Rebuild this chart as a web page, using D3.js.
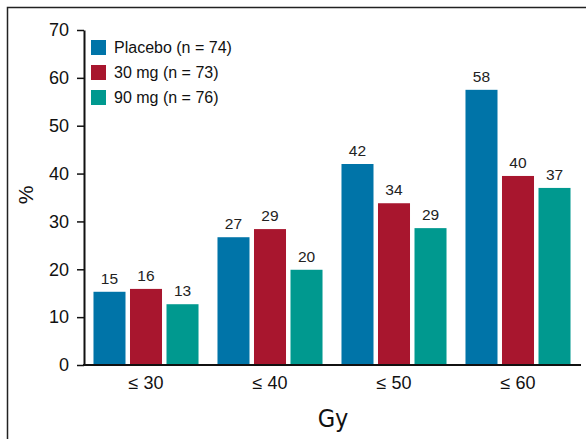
<!DOCTYPE html>
<html>
<head>
<meta charset="utf-8">
<script src="https://cdn.jsdelivr.net/npm/d3@7"></script>
<style>
  body { margin: 0; background: #fff; }
  svg { display: block; font-family: "Liberation Sans", Arial, Helvetica, sans-serif; }
</style>
</head>
<body>
<div id="chart"></div>
<script>
// data
const categories = ["≤ 30", "≤ 40", "≤ 50", "≤ 60"]
const seriesNames = ["Placebo (n = 74)", "30 mg (n = 73)", "90 mg (n = 76)"]
const placebo = [15.3, 26.7, 42.0, 57.5]
const mg30 = [15.9, 28.4, 33.8, 39.5]
const mg90 = [12.7, 19.9, 28.6, 37.0]
const placeboLabels = [15, 27, 42, 58]
const mg30Labels = [16, 29, 34, 40]
const mg90Labels = [13, 20, 29, 37]
const yTicks = [0, 10, 20, 30, 40, 50, 60, 70]

const colors = ["#0074a8", "#a8162e", "#00998f"]
const width = 586
const height = 439

const series = [placebo, mg30, mg90]
const labels = [placeboLabels, mg30Labels, mg90Labels]

const svg = d3.select("#chart")
  .append("svg")
  .attr("width", width)
  .attr("height", height)

// outer frame (cut off at right and bottom)
svg.append("path")
  .attr("d", "M7.5,439 V7.5 H586")
  .attr("fill", "none")
  .attr("stroke", "#222")
  .attr("stroke-width", 1.5)

// scales
const x0 = d3.scaleBand()
  .domain(categories)
  .range([84, 580])
  .paddingInner(0.153)
  .paddingOuter(0.0765)

const x1 = d3.scaleBand()
  .domain(d3.range(3))
  .range([0, x0.bandwidth()])
  .paddingInner(0.123)

const y = d3.scaleLinear()
  .domain([0, 70])
  .range([365, 30])

// bars
const groups = svg.selectAll(".grp")
  .data(categories)
  .join("g")
  .attr("class", "grp")
  .attr("transform", d => `translate(${x0(d)},0)`)

groups.each(function (cat, ci) {
  const g = d3.select(this)
  const rows = d3.range(3).map(si => ({ si, v: series[si][ci], lab: labels[si][ci] }))
  g.selectAll("rect")
    .data(rows)
    .join("rect")
    .attr("x", d => x1(d.si))
    .attr("width", x1.bandwidth())
    .attr("y", d => y(d.v))
    .attr("height", d => y(0) - y(d.v))
    .attr("fill", d => colors[d.si])
  g.selectAll("text")
    .data(rows)
    .join("text")
    .attr("x", d => x1(d.si) + x1.bandwidth() / 2)
    .attr("y", d => y(d.v) - 8)
    .attr("text-anchor", "middle")
    .style("font-size", "15.5px")
    .style("fill", "#222")
    .text(d => d.lab)
})

// y axis
const yAxis = svg.append("g")
  .attr("transform", "translate(84,0)")
  .call(d3.axisLeft(y).tickValues(yTicks).tickSize(7).tickSizeOuter(0))
yAxis.select(".domain").attr("stroke", "#111").attr("stroke-width", 2)
yAxis.selectAll(".tick line").attr("stroke", "#111").attr("stroke-width", 1.5)
yAxis.selectAll(".tick text")
  .attr("x", -15)
  .style("font-size", "18px")
  .style("fill", "#111")

// x axis
const xAxis = svg.append("g")
  .attr("transform", "translate(0,365)")
  .call(d3.axisBottom(x0).tickSize(0).tickSizeOuter(0))
xAxis.select(".domain").attr("stroke", "#111").attr("stroke-width", 2)
  .attr("d", "M83,0H581")
xAxis.selectAll(".tick text")
  .attr("dy", "0")
  .attr("y", 24)
  .style("font-size", "18px")
  .style("fill", "#111")

// axis titles
svg.append("text")
  .attr("transform", "translate(33,195) rotate(-90)")
  .attr("text-anchor", "middle")
  .style("font-size", "21px")
  .style("fill", "#111")
  .text("%")

svg.append("text")
  .attr("x", 333)
  .attr("y", 427)
  .attr("text-anchor", "middle")
  .style("font-family", "'Liberation Sans Narrow', 'DejaVu Sans Condensed', sans-serif")
  .style("font-size", "25px")
  .style("fill", "#111")
  .text("Gy")

// legend
const legend = svg.selectAll(".leg")
  .data(seriesNames)
  .join("g")
  .attr("class", "leg")
  .attr("transform", (d, i) => `translate(91,${40 + i * 25})`)
legend.append("rect")
  .attr("width", 15)
  .attr("height", 15)
  .attr("fill", (d, i) => colors[i])
legend.append("text")
  .attr("x", 23)
  .attr("y", 13)
  .style("font-size", "16px")
  .style("fill", "#111")
  .text(d => d)
</script>
</body>
</html>
